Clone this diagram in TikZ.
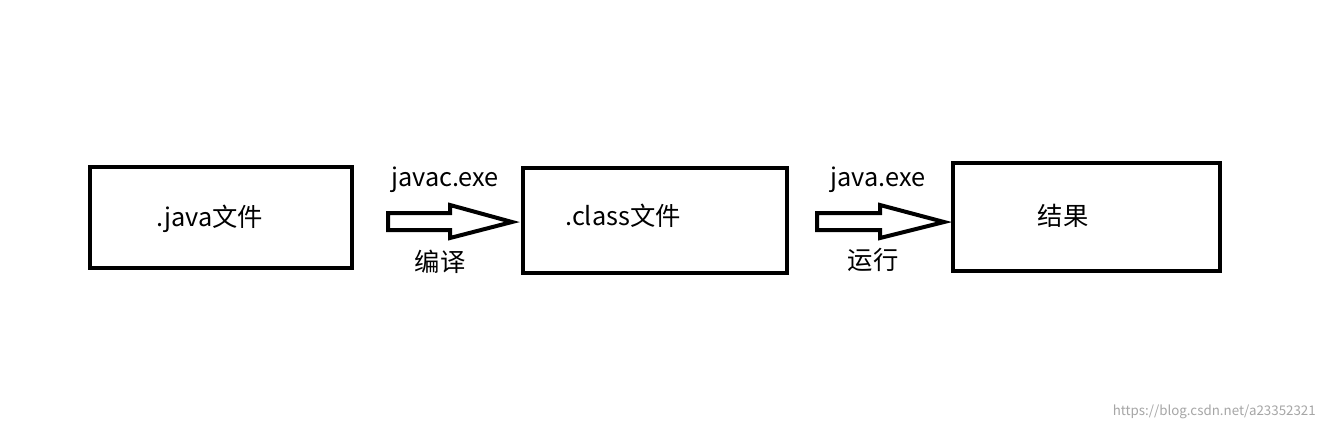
\documentclass[tikz,border=0pt]{standalone}
\usepackage{fontspec}
\setmainfont{Noto Sans CJK SC}
\begin{document}
\begin{tikzpicture}[x=0.75pt,y=-0.75pt,
  boxstyle/.style={draw=black,line width=3pt},
  lbl/.style={font=\fontsize{19}{22}\selectfont,inner sep=0pt},
  blockarrow/.style={draw=black,line width=3pt,line join=miter}]
\useasboundingbox (0,0) rectangle (1323,431);
\fill[white] (0,0) rectangle (1323,431);
\draw[boxstyle] (90,167) rectangle (352,268);
\draw[boxstyle] (523,168) rectangle (787,273);
\draw[boxstyle] (953,163) rectangle (1220,271);
\node[lbl] (t1) at (210,219) {.java文件};
\node[lbl] (t2) at (623,216) {.class文件};
\node[lbl] (t3) at (1063,216) {结果};
\node[lbl] (a1) at (445,180) {javac.exe};
\node[lbl] (b1) at (440,262) {编译};
\node[lbl] (a2) at (878,180) {java.exe};
\node[lbl] (b2) at (873,260) {运行};
\draw[blockarrow] (388,213) -- (450,213) -- (450,205) -- (512,222) -- (450,238) -- (450,230) -- (388,230) -- cycle;
\draw[blockarrow] (817,213) -- (880,213) -- (880,205) -- (944,222) -- (880,238) -- (880,230) -- (817,230) -- cycle;
\node[font=\fontsize{10}{12}\selectfont,text=black!35,anchor=east,inner sep=0pt] (wm) at (1316,412) {https://blog.csdn.net/a23352321};
\end{tikzpicture}
\end{document}
